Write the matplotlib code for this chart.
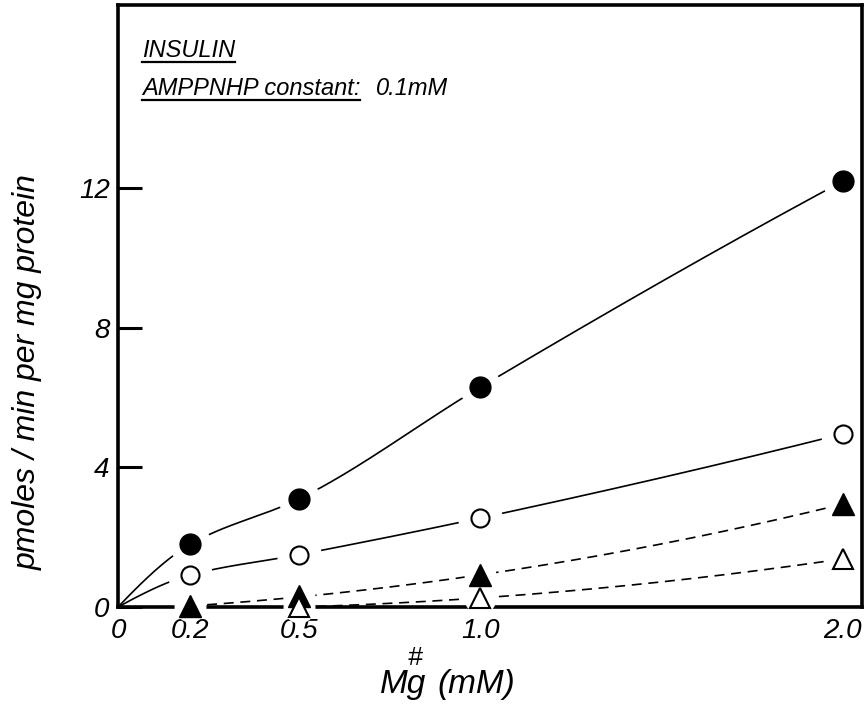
import numpy as np
import matplotlib
matplotlib.use('Agg')
import matplotlib.pyplot as plt
from matplotlib.lines import Line2D

plt.rcParams['font.family'] = ['Liberation Sans', 'DejaVu Sans']
plt.rcParams['font.style'] = 'italic'

# Mg concentration (mM) and activity (pmoles/min per mg protein)
mg = [0.2, 0.5, 1.0, 2.0]
filled_circle = [1.8, 3.1, 6.3, 12.2]
open_circle = [0.92, 1.5, 2.55, 4.96]
filled_tri = [0.02, 0.31, 0.91, 2.95]
mg_open_tri = [0.5, 1.0, 2.0]
open_tri = [0.0, 0.26, 1.38]

xtick_vals = [0, 0.2, 0.5, 1.0, 2.0]
xtick_labels = ['0', '0.2', '0.5', '1.0', '2.0']
ytick_vals = [0, 4, 8, 12]


def pchip(x, y, xs):
    # shape preserving cubic through the points
    x = np.asarray(x, float)
    y = np.asarray(y, float)
    n = len(x)
    h = np.diff(x)
    delta = np.diff(y) / h
    d = np.zeros(n)
    for k in range(1, n - 1):
        if delta[k - 1] * delta[k] > 0:
            w1 = 2 * h[k] + h[k - 1]
            w2 = h[k] + 2 * h[k - 1]
            d[k] = (w1 + w2) / (w1 / delta[k - 1] + w2 / delta[k])
    d[0] = ((2 * h[0] + h[1]) * delta[0] - h[0] * delta[1]) / (h[0] + h[1])
    d[-1] = ((2 * h[-1] + h[-2]) * delta[-1] - h[-1] * delta[-2]) / (h[-1] + h[-2])
    idx = np.clip(np.searchsorted(x, xs) - 1, 0, n - 2)
    t = (xs - x[idx]) / h[idx]
    h00 = 2 * t ** 3 - 3 * t ** 2 + 1
    h10 = t ** 3 - 2 * t ** 2 + t
    h01 = -2 * t ** 3 + 3 * t ** 2
    h11 = t ** 3 - t ** 2
    return (h00 * y[idx] + h10 * h[idx] * d[idx] + h01 * y[idx + 1]
            + h11 * h[idx] * d[idx + 1])


fig = plt.figure(figsize=(8.67, 7.05), dpi=100)
ax = fig.add_axes([0.1361, 0.1390, 0.8581, 0.8539])
ax.set_xlim(0, 2.053)
ax.set_ylim(0, 17.25)

# smooth curves through the points (circles start at the origin)
xs = np.linspace(0, 2.0, 300)
ax.plot(xs, pchip([0] + mg, [0] + filled_circle, xs), color='black', lw=1.2, zorder=3)
ax.plot(xs, pchip([0] + mg, [0] + open_circle, xs), color='black', lw=1.2, zorder=3)

xt = np.linspace(0.2, 2.0, 200)
p = np.polyfit(mg, filled_tri, 2)
ax.plot(xt, np.polyval(p, xt), color='black', lw=1.2, dashes=(6, 4), zorder=3)
xo = np.linspace(0.5, 2.0, 200)
p = np.polyfit(mg_open_tri, open_tri, 2)
ax.plot(xo, np.polyval(p, xo), color='black', lw=1.2, dashes=(6, 4), zorder=3)

# white halos so lines and axis stop short of the symbols
for xv, yv, s in [(mg, filled_circle, 29), (mg, open_circle, 31),
                  (mg, filled_tri, 22), (mg_open_tri, open_tri, 22)]:
    ax.plot(xv, yv, ls='none', marker='o', ms=s, mfc='white', mec='white',
            zorder=4, clip_on=False)

ax.plot(mg, filled_circle, ls='none', marker='o', ms=15, mfc='black', mec='black',
        zorder=5, clip_on=False)
ax.plot(mg, open_circle, ls='none', marker='o', ms=13, mfc='white', mec='black',
        mew=1.5, zorder=5, clip_on=False)
ax.plot(mg, filled_tri, ls='none', marker='^', ms=16, mfc='black', mec='black',
        zorder=5, clip_on=False)
ax.plot(mg_open_tri, open_tri, ls='none', marker='^', ms=15, mfc='white', mec='black',
        mew=1.5, zorder=6, clip_on=False)

for sp in ax.spines.values():
    sp.set_linewidth(2.6)
ax.spines['right'].set_zorder(7)

ax.set_xticks(xtick_vals)
ax.set_xticklabels(xtick_labels)
ax.set_xticks([2.0], minor=True)
ax.tick_params(axis='x', which='major', length=0, pad=8, labelsize=20)
ax.tick_params(axis='x', which='minor', direction='in', length=16, width=2.2)
ax.set_yticks(ytick_vals)
ax.set_yticklabels([str(v) for v in ytick_vals])
ax.tick_params(axis='y', direction='in', length=17, width=2.2, pad=6, labelsize=20)

ax.set_ylabel('pmoles / min per mg protein', fontsize=23)
ax.yaxis.set_label_coords(-0.101, 0.39)

# x label: Mg with # over the g
mg_txt = ax.text(0.352, -0.143, 'Mg', transform=ax.transAxes, fontsize=24,
                 va='baseline', ha='left')
ax.text(0.43, -0.143, '(mM)', transform=ax.transAxes, fontsize=24, va='baseline', ha='left')

t1 = ax.text(0.032, 0.914, 'INSULIN', transform=ax.transAxes, fontsize=17, va='baseline')
t2 = ax.text(0.032, 0.850, 'AMPPNHP constant:', transform=ax.transAxes, fontsize=17,
             va='baseline')

# underline the two headings, then put the concentration after the second one
fig.canvas.draw()
inv = fig.transFigure.inverted()
for t, base in [(t1, 0.914), (t2, 0.850)]:
    bb = t.get_window_extent()
    y0 = ax.transAxes.transform((0, base))[1] - 5
    (fx0, fy), (fx1, _) = inv.transform([(bb.x0, y0), (bb.x1, y0)])
    fig.add_artist(Line2D([fx0, fx1], [fy, fy], color='black', lw=1.6))
bb = t2.get_window_extent()
fx = inv.transform((bb.x1 + 16, 0))[0]
fig.text(fx, ax.transAxes.transform((0, 0.850))[1] / fig.bbox.height, '0.1mM',
         fontsize=17, va='baseline')

mb = mg_txt.get_window_extent()
hx, hy = inv.transform((mb.x1 - 11, mb.y1 - 1))
fig.text(hx, hy, '#', fontsize=19, va='bottom', ha='center')

fig.savefig('out.png', dpi=100)
